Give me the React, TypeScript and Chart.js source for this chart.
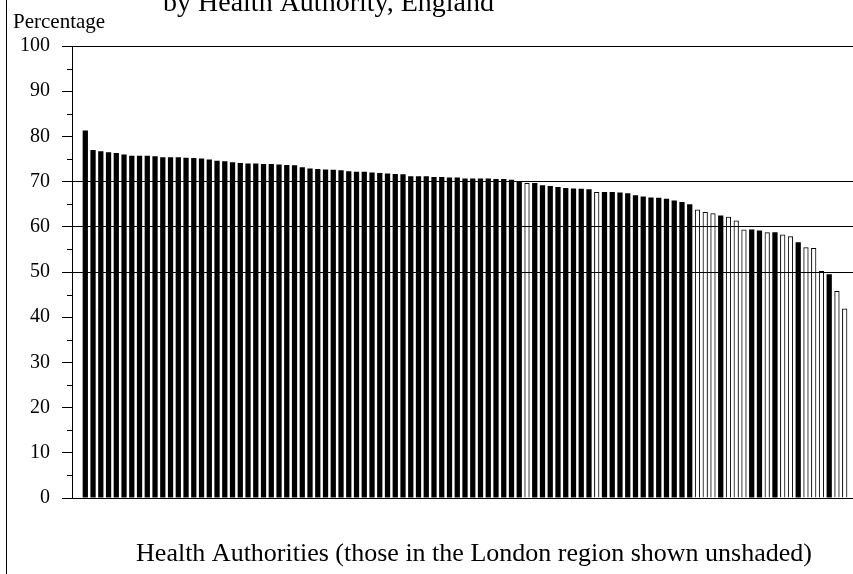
import { useEffect, useRef } from 'react';
import { Chart, registerables } from 'chart.js';

Chart.register(...registerables);

// ---- Texts ----
const titleLine = 'by Health Authority, England';
const yAxisLabel = 'Percentage';
const xAxisLabel = 'Health Authorities (those in the London region shown unshaded)';

// ---- Data: percentage per Health Authority, sorted descending (99 authorities) ----
const percentages = [
  81.3, 77.0, 76.7, 76.5, 76.3, 76.0, 75.7, 75.7, 75.7, 75.6,
  75.4, 75.4, 75.4, 75.3, 75.2, 75.1, 74.9, 74.6, 74.5, 74.3,
  74.1, 74.0, 74.0, 73.9, 73.9, 73.8, 73.7, 73.6, 73.2, 72.9,
  72.8, 72.7, 72.6, 72.5, 72.3, 72.2, 72.2, 72.0, 71.9, 71.8,
  71.7, 71.6, 71.2, 71.2, 71.2, 71.0, 71.0, 70.9, 70.9, 70.7,
  70.7, 70.7, 70.7, 70.6, 70.6, 70.4, 69.9, 69.7, 69.7, 69.2,
  69.0, 68.8, 68.6, 68.5, 68.4, 68.3, 67.7, 67.7, 67.7, 67.6,
  67.4, 67.0, 66.7, 66.5, 66.4, 66.2, 65.8, 65.5, 65.0, 63.8,
  63.3, 63.0, 62.5, 62.2, 61.4, 59.4, 59.4, 59.2, 58.8, 58.8,
  58.3, 57.9, 56.6, 55.5, 55.3, 50.2, 49.5, 45.8, 41.9,
];

// Positions (0-based, in the sorted order) of authorities in the London region (unshaded)
const londonIndices = [57, 66, 79, 80, 81, 83, 84, 85, 88, 90, 91, 93, 94, 95, 97, 98];

// ---- Axis ticks ----
const yMin = 0;
const yMax = 100;
const yStep = 10;
const yMinorTicks = [5, 15, 25, 35, 45, 55, 65, 75, 85, 95];
const yGridLineValues = [50, 60, 70, 100];

const serif = '"Liberation Serif", "Times New Roman", Times, serif';

export default function App() {
  const canvasRef = useRef<HTMLCanvasElement | null>(null);

  useEffect(() => {
    const canvas = canvasRef.current;
    if (!canvas) return;

    const decorations = {
      id: 'decorations',
      afterDraw(chart: any) {
        const { ctx, chartArea } = chart;
        const yScale = chart.scales.y;
        ctx.save();
        // left frame line
        ctx.strokeStyle = '#000';
        ctx.lineWidth = 1;
        ctx.beginPath();
        ctx.moveTo(6.5, 0);
        ctx.lineTo(6.5, chart.height);
        // minor ticks
        for (const v of yMinorTicks) {
          const py = Math.round(yScale.getPixelForValue(v)) + 0.5;
          ctx.moveTo(chartArea.left - 5, py);
          ctx.lineTo(chartArea.left, py);
        }
        ctx.stroke();

        ctx.fillStyle = '#000';
        ctx.textBaseline = 'alphabetic';
        ctx.textAlign = 'left';
        ctx.font = `28px ${serif}`;
        ctx.fillText(titleLine, 163, 11);

        ctx.font = `21px ${serif}`;
        ctx.fillText(yAxisLabel, 13, 28);

        ctx.font = `26px ${serif}`;
        ctx.textAlign = 'center';
        ctx.fillText(xAxisLabel, 474, 561);
        ctx.restore();
      },
    };

    const isLondon = percentages.map((_, i) => londonIndices.includes(i));

    const chart = new Chart(canvas, {
      type: 'bar',
      data: {
        datasets: [
          {
            data: percentages.map((v, i) => ({ x: i, y: v })) as any,
            backgroundColor: isLondon.map((l) => (l ? 'rgba(0,0,0,0)' : '#000')),
            borderColor: '#000',
            borderWidth: isLondon.map((l) => (l ? 1 : 0)),
            categoryPercentage: 1,
            barPercentage: 0.68,
          },
        ],
      },
      options: {
        animation: false,
        responsive: false,
        devicePixelRatio: 1,
        layout: { padding: { left: 8, top: 46, right: 0, bottom: 76 } },
        plugins: {
          legend: { display: false },
          tooltip: { enabled: false },
          title: { display: false },
        },
        scales: {
          x: {
            type: 'linear',
            min: -1.716,
            max: 99.07,
            offset: false,
            ticks: { display: false },
            grid: { display: false, drawTicks: false },
            border: { display: true, color: '#000', width: 1 },
          },
          y: {
            min: yMin,
            max: yMax,
            ticks: {
              stepSize: yStep,
              color: '#000',
              font: { family: serif, size: 20 },
              padding: 12,
            },
            grid: {
              color: (c: any) =>
                c.tick && yGridLineValues.includes(c.tick.value) ? '#000' : 'rgba(0,0,0,0)',
              tickColor: '#000',
              tickLength: 10,
              lineWidth: 1,
            },
            border: { display: true, color: '#000', width: 1 },
            afterFit: (scale: any) => {
              scale.width = 64;
            },
          },
        },
      } as any,
      plugins: [decorations],
    });

    return () => chart.destroy();
  }, []);

  return (
    <div style={{ position: 'absolute', left: 0, top: 0, width: 853, height: 574, background: '#fff' }}>
      <canvas ref={canvasRef} width={853} height={574} style={{ display: 'block', width: 853, height: 574 }} />
    </div>
  );
}
